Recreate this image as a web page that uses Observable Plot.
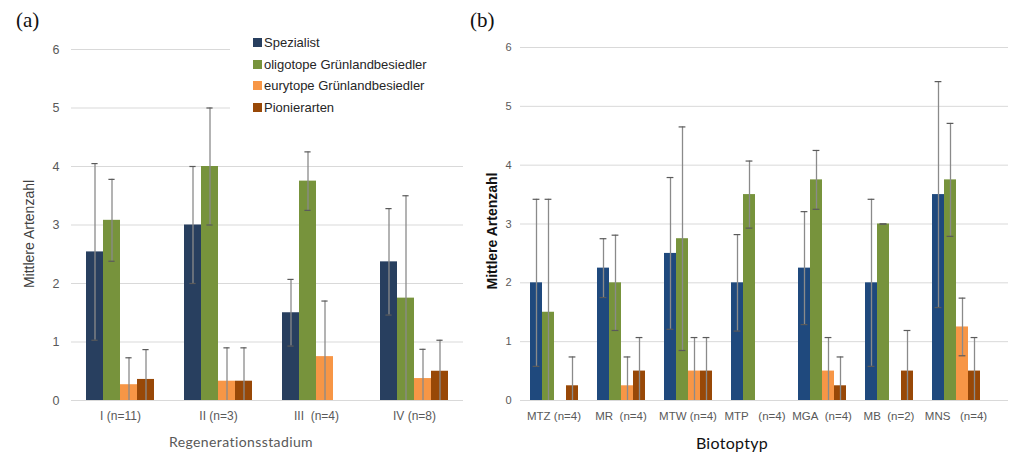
<!DOCTYPE html>
<html>
<head>
<meta charset="utf-8">
<script src="https://cdn.jsdelivr.net/npm/d3@7"></script>
<script src="https://cdn.jsdelivr.net/npm/@observablehq/plot@0.6"></script>
<style>
  html, body { margin: 0; padding: 0; background: #fff; }
  #root { position: relative; width: 1010px; height: 452px; overflow: hidden; background: #fff; }
  .layer { position: absolute; left: 0; top: 0; }
  .lbl { position: absolute; white-space: pre; }
  .legend { position: absolute; left: 230px; top: 30px; width: 233px; height: 88px; background: #fff;
            font-family: "Liberation Sans", Arial, sans-serif; font-size: 13px; color: #262626; }
  .legend .row { position: absolute; left: 23px; height: 16px; line-height: 16px; }
  .legend .sw { display: inline-block; width: 9px; height: 9px; margin-right: 2px; vertical-align: -0px; }
</style>
</head>
<body>
<div id="root">
  <div id="pa" style="position:absolute;left:0;top:0;width:465px;height:452px"></div>
  <div id="pb" style="position:absolute;left:460px;top:0;width:550px;height:452px"></div>
</div>
<script>
// ---------- data ----------
const seriesNames = ["Spezialist", "oligotope Grünlandbesiedler", "eurytope Grünlandbesiedler", "Pionierarten"];
const yTicks = [0, 1, 2, 3, 4, 5, 6];

// Panel (a): Regenerationsstadium
const catsA = ["I (n=11)", "II (n=3)", "III\u00a0 (n=4)", "IV (n=8)"];
const spezA = [2.54, 3.0, 1.5, 2.37];
const oligA = [3.08, 4.0, 3.75, 1.75];
const euryA = [0.27, 0.33, 0.75, 0.375];
const pionA = [0.36, 0.33, 0, 0.5];
const sdSpezA = [1.51, 1.0, 0.57, 0.91];
const sdOligA = [0.7, 1.0, 0.5, 1.75];
const sdEuryA = [0.46, 0.57, 0.95, 0.5];
const sdPionA = [0.51, 0.57, 0, 0.53];

// Panel (b): Biotoptyp
const catsB = ["MTZ (n=4)", "MR\u00a0 (n=4)", "MTW (n=4)", "MTP\u00a0\u00a0 (n=4)", "MGA\u00a0 (n=4)", "MB\u00a0 (n=2)", "MNS\u00a0\u00a0 (n=4)"];
const spezB = [2.0, 2.25, 2.5, 2.0, 2.25, 2.0, 3.5];
const oligB = [1.5, 2.0, 2.75, 3.5, 3.75, 3.0, 3.75];
const euryB = [0, 0.25, 0.5, 0, 0.5, 0, 1.25];
const pionB = [0.25, 0.5, 0.5, 0, 0.25, 0.5, 0.5];
const sdSpezB = [1.42, 0.5, 1.29, 0.82, 0.96, 1.42, 1.92];
const sdOligB = [1.92, 0.81, 1.9, 0.57, 0.5, 0, 0.96];
const sdEuryB = [0, 0.49, 0.57, 0, 0.57, 0, 0.49];
const sdPionB = [0.49, 0.57, 0.57, 0, 0.49, 0.69, 0.57];

const colorsA = ["#283F5F", "#77933C", "#F79646", "#984807"];
const colorsB = ["#1F497D", "#77933C", "#F79646", "#984807"];

// ---------- helpers ----------
function makeRows(cats, means, sds) {
  const rows = [];
  cats.forEach((c, i) => {
    seriesNames.forEach((s, j) => {
      const v = means[j][i], sd = sds[j][i];
      rows.push({cat: c, series: s, value: v, sd: sd, lo: Math.max(0, v - sd), hi: v + sd});
    });
  });
  return rows;
}

function panel(el, o) {
  const rows = makeRows(o.cats, o.means, o.sds);
  const err = rows.filter(d => d.value > 0);
  const errLo = err.filter(d => d.lo > 0);
  const common = {
    width: o.width, height: 452,
    marginLeft: o.ml, marginRight: o.mr, marginTop: o.mt, marginBottom: o.mb
  };
  const bg = Plot.plot({
    ...common,
    marginRight: o.mrGrid,
    style: {fontFamily: "'Liberation Sans', Arial, sans-serif", background: "transparent"},
    y: {domain: [0, 6], axis: null},
    marks: [
      Plot.gridY(yTicks, {stroke: "#d9d9d9", strokeOpacity: 1, strokeWidth: 1}),
      Plot.axisY(yTicks, {tickSize: 0, tickPadding: o.yPad, fontSize: o.yFont, fill: "#595959", label: null, tickFormat: d3.format("d")})
    ]
  });
  const fg = Plot.plot({
    ...common,
    style: {fontFamily: "'Liberation Sans', Arial, sans-serif", background: "transparent"},
    fx: {domain: o.cats, paddingInner: 0, paddingOuter: 0, axis: null},
    x: {domain: seriesNames, paddingInner: 0, paddingOuter: 0.76, axis: null},
    y: {domain: [0, 6], axis: null},
    color: {domain: seriesNames, range: o.colors},
    marks: [
      Plot.barY(rows, {fx: "cat", x: "series", y: "value", fill: "series"}),
      Plot.ruleX(err, {fx: "cat", x: "series", y1: "lo", y2: "hi", stroke: "#8a8a8a", strokeWidth: 1.3}),
      Plot.tickY(err, {fx: "cat", x: "series", y: "hi", stroke: "#5a5a5a", strokeWidth: 1.2, insetLeft: o.capInset, insetRight: o.capInset}),
      Plot.tickY(errLo, {fx: "cat", x: "series", y: "lo", stroke: "#5a5a5a", strokeWidth: 1.2, insetLeft: o.capInset, insetRight: o.capInset}),
      Plot.axisFx({anchor: "bottom", tickSize: 0, tickPadding: o.xPad, fontSize: o.xFont, fill: "#595959", label: null})
    ]
  });
  bg.classList.add("layer");
  fg.classList.add("layer");
  el.appendChild(bg);
  el.appendChild(fg);
}

panel(document.getElementById("pa"), {
  cats: catsA, means: [spezA, oligA, euryA, pionA], sds: [sdSpezA, sdOligA, sdEuryA, sdPionA],
  colors: colorsA, width: 465, ml: 71, mr: 2, mrGrid: 2, mt: 49, mb: 52,
  capInset: 5.4, yPad: 12, yFont: 12.5, xPad: 11, xFont: 12
});
panel(document.getElementById("pb"), {
  cats: catsB, means: [spezB, oligB, euryB, pionB], sds: [sdSpezB, sdOligB, sdEuryB, sdPionB],
  colors: colorsB, width: 550, ml: 60, mr: 21, mrGrid: 2, mt: 47, mb: 52,
  capInset: 2.6, yPad: 9, yFont: 11, xPad: 11, xFont: 11.5
});

// ---------- text overlays ----------
const root = document.getElementById("root");
function addLabel(text, css) {
  const d = document.createElement("div");
  d.className = "lbl";
  d.textContent = text;
  Object.assign(d.style, css);
  root.appendChild(d);
  return d;
}
addLabel("(a)", {left: "16px", top: "8px", fontFamily: "'Liberation Serif', 'DejaVu Serif', serif", fontSize: "21px", color: "#111"});
addLabel("(b)", {left: "470px", top: "8px", fontFamily: "'Liberation Serif', 'DejaVu Serif', serif", fontSize: "21px", color: "#111"});

const ya = addLabel("Mittlere Artenzahl", {left: "29px", top: "234px", fontFamily: "'Liberation Sans', Arial, sans-serif", fontSize: "14px", color: "#404040", transform: "translate(-50%,-50%) rotate(-90deg)"});
const yb = addLabel("Mittlere Artenzahl", {left: "492px", top: "231px", fontFamily: "'Liberation Sans', Arial, sans-serif", fontSize: "14px", fontWeight: "bold", color: "#111", transform: "translate(-50%,-50%) rotate(-90deg)"});
addLabel("Regenerationsstadium", {left: "241px", top: "441px", fontFamily: "Lato, 'Open Sans', sans-serif", fontSize: "14px", letterSpacing: "0.4px", color: "#595959", transform: "translate(-50%,-50%)"});
addLabel("Biotoptyp", {left: "732px", top: "442px", fontFamily: "Lato, 'Open Sans', sans-serif", fontSize: "16px", letterSpacing: "0.3px", color: "#111", transform: "translate(-50%,-50%)"});

// legend (panel a)
const leg = document.createElement("div");
leg.className = "legend";
seriesNames.forEach((s, i) => {
  const r = document.createElement("div");
  r.className = "row";
  r.style.top = (5 + i * 21.5) + "px";
  const sw = document.createElement("span");
  sw.className = "sw";
  sw.style.background = colorsA[i];
  r.appendChild(sw);
  r.appendChild(document.createTextNode(s));
  leg.appendChild(r);
});
root.appendChild(leg);
</script>
</body>
</html>
